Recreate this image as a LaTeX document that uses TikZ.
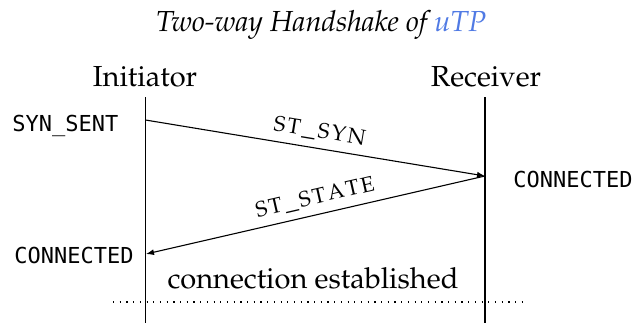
\documentclass[tikz,border=0pt]{standalone}
\usepackage[T1]{fontenc}
\usepackage{fontspec}
\usetikzlibrary{arrows.meta}
\newfontfamily\monof{DejaVu Sans Mono}
\newcommand\pal{\fontencoding{T1}\fontfamily{ppl}\selectfont}
\newcommand\ls{\kern0.4pt}
\definecolor{linkblue}{RGB}{80,122,228}
\tikzset{
  lifeline/.style={line width=0.75pt},
  msg/.style={line width=0.55pt,-{Latex[length=4pt,width=3pt]}},
  actor/.style={font=\pal\fontsize{14.5}{17}\selectfont,inner sep=0pt},
  stlabel/.style={font=\monof\fontsize{11}{13}\selectfont,inner sep=0pt},
  msglabel/.style={font=\pal\fontsize{13.5}{16}\selectfont\scshape,inner sep=3.5pt},
}
\begin{document}
\begin{tikzpicture}[x=0.5pt,y=-0.5pt]
\useasboundingbox (0,0) rectangle (635,327);
% title
\node[actor,anchor=base] (title) at (321,31) {\itshape Two-way Handshake of \textcolor{linkblue}{uTP}};
% actors
\node[actor,anchor=base] (init) at (145,86) {Initiator};
\node[actor,anchor=base] (recv) at (486,86) {Receiver};
% lifelines
\coordinate (i0) at (145.5,97);
\coordinate (i1) at (145.5,323);
\coordinate (r0) at (485,97);
\coordinate (r1) at (485,323);
\draw[lifeline] (i0) -- (i1);
\draw[lifeline] (r0) -- (r1);
% message points
\coordinate (a1) at (145.5,120);
\coordinate (b1) at (485,176);
\coordinate (a2) at (146,254);
\draw[msg] (a1) -- node[msglabel,pos=0.505,above,sloped] (syn) {s\ls t\ls\_\ls s\ls y\ls n} (b1);
\draw[msg] (b1) -- node[msglabel,pos=0.49,above,sloped] (state) {s\ls t\ls\_\ls s\ls t\ls a\ls t\ls e} (a2);
% states
\node[stlabel,anchor=base west] (synsent) at (12,131) {SYN\_SENT};
\node[stlabel,anchor=base west] (connr) at (513,187) {CONNECTED};
\node[stlabel,anchor=base east] (connl) at (134,263) {CONNECTED};
% established
\node[actor,anchor=base] (est) at (313,288) {connection established};
\coordinate (d0) at (113,302);
\coordinate (d1) at (523,302);
\draw[line width=0.6pt,dash pattern=on 0.6pt off 2.75pt] (d0) -- (d1);
\end{tikzpicture}
\end{document}
